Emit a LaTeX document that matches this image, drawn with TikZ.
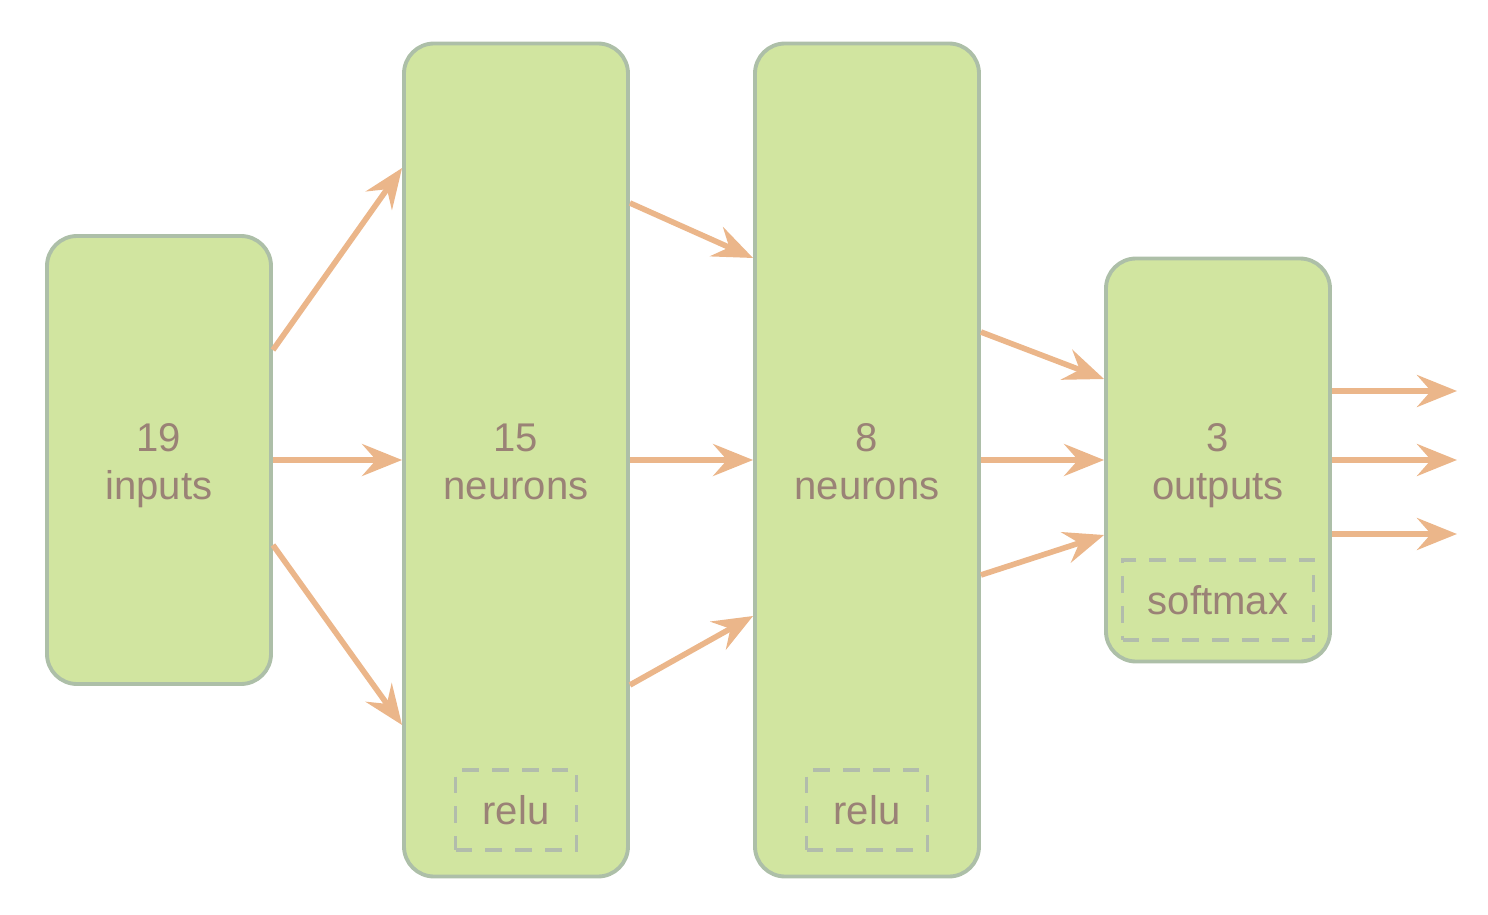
\documentclass[tikz,border=0pt]{standalone}
\usepackage{fontspec}
\setmainfont{Liberation Sans}
\usetikzlibrary{arrows.meta,calc,positioning}
\definecolor{layerfill}{HTML}{D1E5A0}
\definecolor{layerdraw}{HTML}{ADBFA8}
\definecolor{flowcol}{HTML}{EBB68A}
\definecolor{labelcol}{HTML}{9A8276}
\definecolor{actdraw}{HTML}{B2BCAC}

\begin{document}
\begin{tikzpicture}[>={Stealth[length=4mm,width=3.2mm,inset=1.4mm]},
  layer/.style={draw=layerdraw,fill=layerfill,line width=1.1pt,rounded corners=0.3cm,
    minimum width=2.24cm,text=labelcol,align=center,font=\fontsize{11.4}{13.6}\selectfont,
    text height=26.6pt,text depth=4pt},
  actbox/.style={draw=actdraw,dash pattern=on 4.8pt off 3.7pt,line width=1pt,
    minimum height=0.8cm,text=labelcol,font=\fontsize{11.4}{13.6}\selectfont},
  flow/.style={->,draw=flowcol,line width=1.6pt}]
  \useasboundingbox (0,0) rectangle (14.88,9.14);
  % layers
  \node[layer,minimum height=4.48cm] (in) at (1.59,4.54) {19\\inputs};
  \node[layer,minimum height=8.33cm] (h1) at (5.16,4.54) {15\\neurons};
  \node[layer,minimum height=8.33cm] (h2) at (8.67,4.54) {8\\neurons};
  \node[layer,minimum height=4.03cm] (out) at (12.18,4.54) {3\\outputs};
  % activations
  \node[actbox,minimum width=1.21cm] (act1) at (5.16,1.04) {relu};
  \node[actbox,minimum width=1.21cm] (act2) at (8.67,1.04) {relu};
  \node[actbox,minimum width=1.91cm] (act3) at (12.18,3.14) {softmax};
  % inputs -> 15
  \draw[flow] ([yshift=1.10cm]in.east) -- ([yshift=2.92cm]h1.west);
  \draw[flow] (in.east) -- (h1.west);
  \draw[flow] ([yshift=-0.85cm]in.east) -- ([yshift=-2.65cm]h1.west);
  % 15 -> 8
  \draw[flow] ([yshift=2.57cm]h1.east) -- ([yshift=2.02cm]h2.west);
  \draw[flow] (h1.east) -- (h2.west);
  \draw[flow] ([yshift=-2.25cm]h1.east) -- ([yshift=-1.56cm]h2.west);
  % 8 -> outputs
  \draw[flow] ([yshift=1.28cm]h2.east) -- ([yshift=0.81cm]out.west);
  \draw[flow] (h2.east) -- (out.west);
  \draw[flow] ([yshift=-1.15cm]h2.east) -- ([yshift=-0.75cm]out.west);
  % outputs
  \coordinate (o1) at (14.57,5.23);
  \coordinate (o2) at (14.57,4.54);
  \coordinate (o3) at (14.57,3.80);
  \draw[flow] (out.east |- o1) -- (o1);
  \draw[flow] (out.east) -- (o2);
  \draw[flow] (out.east |- o3) -- (o3);
\end{tikzpicture}
\end{document}
